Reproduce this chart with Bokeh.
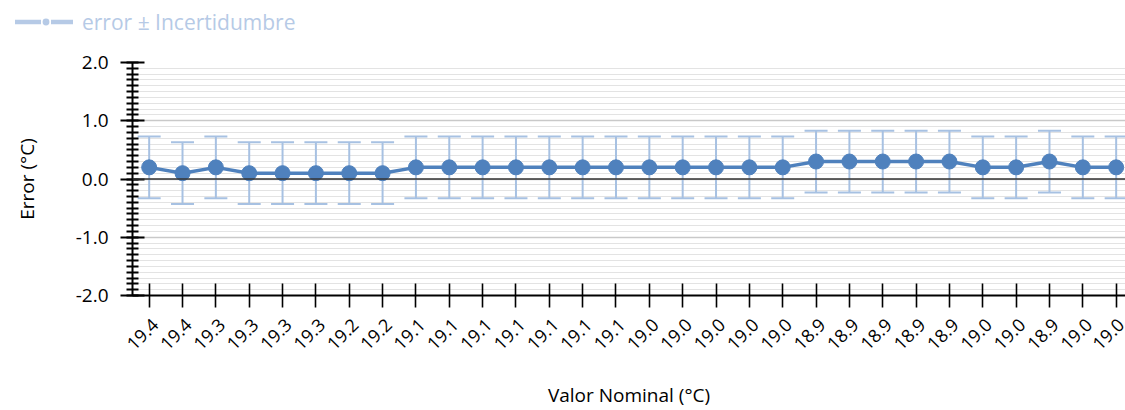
import math
from bokeh.plotting import figure
from bokeh.layouts import column
from bokeh.models import (ColumnDataSource, Range1d, FixedTicker, SingleIntervalTicker,
                          NumeralTickFormatter, Whisker, TeeHead, Span, Div, LinearAxis,
                          CustomLabelingPolicy)
from bokeh.embed import file_html
from bokeh.resources import INLINE

# ---- data ----
nominal_labels = ["19.4", "19.4", "19.3", "19.3", "19.3", "19.3", "19.2", "19.2",
                  "19.1", "19.1", "19.1", "19.1", "19.1", "19.1", "19.1",
                  "19.0", "19.0", "19.0", "19.0", "19.0",
                  "18.9", "18.9", "18.9", "18.9", "18.9",
                  "19.0", "19.0", "18.9", "19.0", "19.0"]
error_values = [0.2, 0.1, 0.2, 0.1, 0.1, 0.1, 0.1, 0.1,
                0.2, 0.2, 0.2, 0.2, 0.2, 0.2, 0.2,
                0.2, 0.2, 0.2, 0.2, 0.2,
                0.3, 0.3, 0.3, 0.3, 0.3,
                0.2, 0.2, 0.3, 0.2, 0.2]
uncertainty = [0.53] * len(error_values)
series_name = "error ± Incertidumbre"

FONT = "Open Sans"
BLUE = "#4f81bd"
LIGHT = "#a7c1e2"
LEG = "#b6cae6"

idx = list(range(len(error_values)))
src = ColumnDataSource(dict(
    x=idx,
    y=error_values,
    upper=[v + u for v, u in zip(error_values, uncertainty)],
    lower=[v - u for v, u in zip(error_values, uncertainty)],
))

# ---------- legend strip ----------
legend_html = (
    f'<div style="display:flex;align-items:center;height:40px;padding-left:15px;'
    f'font-family:\'{FONT}\';font-size:21px;color:{LEG};line-height:22px;margin-top:2px">'
    f'<svg width="58" height="20" style="display:block">'
    f'<line x1="0" y1="10" x2="26" y2="10" stroke="{LEG}" stroke-width="4.5"/>'
    f'<circle cx="31" cy="10" r="3.4" fill="{LEG}"/>'
    f'<line x1="36" y1="10" x2="58" y2="10" stroke="{LEG}" stroke-width="4.5"/>'
    f'</svg><span style="margin-left:9px">{series_name}</span></div>'
)
lg = Div(text=legend_html, width=1125, height=40, margin=0)

# ---------- main chart ----------
X0, X1 = -0.5, 29.28
p = figure(width=1125, height=370, output_backend="svg", toolbar_location=None,
           x_range=Range1d(X0, X1), y_range=Range1d(-2.0, 2.0),
           min_border_left=132, min_border_right=0, min_border_top=22, min_border_bottom=10)
p.outline_line_color = None
p.background_fill_color = "white"
p.border_fill_color = "white"
# label range: same scale, nudged so the slanted labels sit like the original
p.extra_x_ranges = {"lab": Range1d(X0 - 0.18, X1 - 0.18)}

# grid
p.xgrid.grid_line_color = None
p.ygrid.ticker = SingleIntervalTicker(interval=1, num_minor_ticks=10)
p.ygrid.grid_line_color = "#c9c9c9"
p.ygrid.grid_line_width = 1.5
p.ygrid.minor_grid_line_color = "#e3e3e3"
p.ygrid.minor_grid_line_width = 1

# zero line
p.add_layout(Span(location=0, dimension="width", line_color="#333333", line_width=1.6))

# error bars
wh = Whisker(source=src, base="x", upper="upper", lower="lower",
             line_color=LIGHT, line_width=2,
             upper_head=TeeHead(size=23, line_color=LIGHT, line_width=2),
             lower_head=TeeHead(size=23, line_color=LIGHT, line_width=2))
p.add_layout(wh)

# series
p.line("x", "y", source=src, line_color=BLUE, line_width=3.5)
p.scatter("x", "y", source=src, size=15, fill_color=BLUE, line_color=BLUE)

# x axis (line + crossing ticks, labels suppressed)
xa = p.xaxis[0]
xa.ticker = FixedTicker(ticks=idx)
xa.major_label_policy = CustomLabelingPolicy(code="""
try {
  const n = indices.size
  for (let i = 0; i < n; i++) { indices.unset(i) }
} catch (e) {}
return indices
""")
xa.major_label_text_font_size = "0px"
xa.major_label_standoff = 0
xa.axis_line_color = "black"
xa.axis_line_width = 2
xa.major_tick_line_color = "black"
xa.major_tick_line_width = 1.6
xa.major_tick_in = 12
xa.major_tick_out = 12
xa.minor_tick_line_color = None

# x axis labels
xl = LinearAxis(x_range_name="lab", ticker=FixedTicker(ticks=idx))
xl.major_label_overrides = {i: lab for i, lab in enumerate(nominal_labels)}
xl.major_label_orientation = math.pi / 4
xl.major_label_text_font = FONT
xl.major_label_text_font_size = "18px"
xl.major_label_text_color = "black"
xl.major_label_standoff = 14
xl.axis_line_color = None
xl.major_tick_line_color = None
xl.major_tick_in = 0
xl.major_tick_out = 0
xl.minor_tick_line_color = None
xl.axis_label = "Valor Nominal (°C)"
xl.axis_label_text_font = FONT
xl.axis_label_text_font_size = "19px"
xl.axis_label_text_font_style = "normal"
xl.axis_label_text_color = "black"
xl.axis_label_standoff = 23
p.add_layout(xl, "below")

# y axis
ya = p.yaxis[0]
ya.ticker = SingleIntervalTicker(interval=1, num_minor_ticks=10)
ya.formatter = NumeralTickFormatter(format="0.0")
ya.major_label_text_font = FONT
ya.major_label_text_font_size = "19px"
ya.major_label_text_color = "black"
ya.major_label_standoff = 12
ya.axis_line_color = "black"
ya.axis_line_width = 2
ya.major_tick_line_color = "black"
ya.major_tick_line_width = 2
ya.major_tick_in = 12
ya.major_tick_out = 12
ya.minor_tick_line_color = "black"
ya.minor_tick_line_width = 2
ya.minor_tick_in = 6
ya.minor_tick_out = 6
ya.axis_label = "Error (°C)"
ya.axis_label_text_font = FONT
ya.axis_label_text_font_size = "19px"
ya.axis_label_text_font_style = "normal"
ya.axis_label_text_color = "black"
ya.axis_label_standoff = 33

layout = column(lg, p, spacing=0)
open("out.html", "w").write(file_html(layout, INLINE))
